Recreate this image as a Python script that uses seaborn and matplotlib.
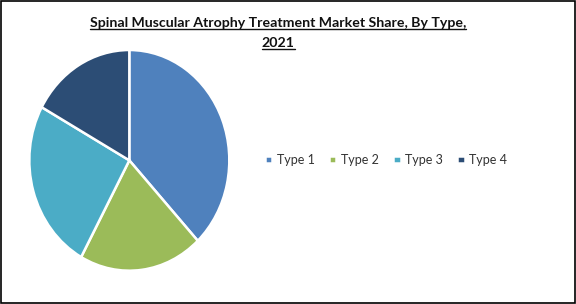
import matplotlib
matplotlib.use("Agg")
import matplotlib.pyplot as plt
import seaborn as sns
from matplotlib.lines import Line2D

categories = ["Type 1", "Type 2", "Type 3", "Type 4"]
shares = [38, 20, 25, 17]
colors = ["#4F81BD", "#9BBB59", "#4BACC6", "#2C4D75"]
title_lines = ["Spinal Muscular Atrophy Treatment Market Share, By Type,", "2021"]

sns.set_theme(style="white")
plt.rcParams["font.family"] = ["Lato", "DejaVu Sans"]

fig = plt.figure(figsize=(5.76, 3.04), dpi=100)
fig.patch.set_facecolor("white")

ax = fig.add_axes([0.0509, 0.1096, 0.3472, 0.7259])
wedges, _ = ax.pie(shares, colors=colors, startangle=90, counterclock=False,
                   wedgeprops=dict(edgecolor="white", linewidth=1.8))
ax.set_aspect("auto")
ax.set_xlim(-1, 1)
ax.set_ylim(-1, 1)
ax.axis("off")

fig.legend(wedges, categories, loc="center", bbox_to_anchor=(0.670, 0.474),
           ncol=4, frameon=False, fontsize=9.0, handlelength=0.6, handleheight=0.6,
           handletextpad=0.35, columnspacing=1.15, labelcolor="#333333")

ys = [0.912, 0.846]
texts = []
for line, y in zip(title_lines, ys):
    t = fig.text(0.483, y, line, ha="center", va="baseline", fontsize=10.2,
                 fontweight="bold", color="#111111")
    texts.append(t)

fig.canvas.draw()
r = fig.canvas.get_renderer()
for t in texts:
    bb = t.get_window_extent(r).transformed(fig.transFigure.inverted())
    _, yb = t.get_transform().transform((0, t.get_position()[1]))
    ybase = fig.transFigure.inverted().transform((0, yb))[1]
    yl = ybase - 2.5 / 304
    fig.add_artist(Line2D([bb.x0, bb.x1], [yl, yl], transform=fig.transFigure,
                          color="#111111", linewidth=1.0))

fig.add_artist(plt.Rectangle((0.001, 0.002), 0.997, 0.995, transform=fig.transFigure,
                             fill=False, edgecolor="black", linewidth=1.2))

fig.savefig("out.png", dpi=100, facecolor="white")
